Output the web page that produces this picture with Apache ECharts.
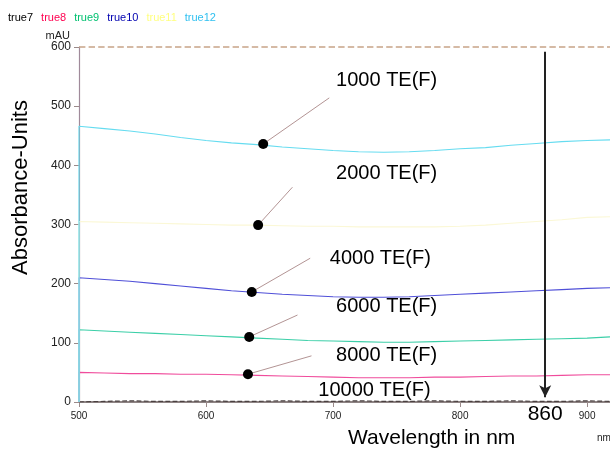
<!DOCTYPE html>
<html><head><meta charset="utf-8">
<script src="https://cdn.jsdelivr.net/npm/echarts@6/dist/echarts.min.js"></script>
<style>html,body{margin:0;padding:0;background:#fff}#c{width:610px;height:455px}</style>
</head><body><div id="c"></div>
<script>
// ---- data ----
const wavelengths = [500,520,540,560,580,600,620,640,660,680,700,720,740,760,780,800,820,840,860,880,900,918];
const seriesNames = ['true7','true8','true9','true10','true11','true12'];
const true7  = [2,1,2,1,1,2,1,1,2,1,1,2,1,1,2,1,1,2,1,1,2,1];
const true8  = [50,49,48,48,47,47,46,45,44,43,42,41,41,41,42,42,43,44,44,45,46,46];
const true9  = [122,120,118,116,114,112,110,108,106,104,103,102,101,101,102,103,104,105,106,107,108,110];
const true10 = [210,207,204,200,196,192,188,185,182,180,178,177,177,178,180,182,184,186,188,190,192,193];
const true11 = [305,304,303,302,301,300,299,299,298,297,297,296,296,296,296,297,299,302,305,308,312,313];
const true12 = [466,462,458,453,447,442,438,435,431,428,425,423,422,423,425,428,430,434,437,440,442,443];
const yTicks = [0,100,200,300,400,500,600];
const xTicks = [500,600,700,800,900];
const annotLabels = ['1000 TE(F)','2000 TE(F)','4000 TE(F)','6000 TE(F)','8000 TE(F)','10000 TE(F)'];
const dotX = [645,641,636,634,633];
const dotY = [436,299,186,110,47];
const leaderEndX = [697,668,682,672,683];
const leaderEndY = [514,363,243,147,78];
const labelX = [702,702,697,702,702,688];
const labelY = [544,387,243,161,79,20];
const arrowX = 867;
const arrowLabel = '860';
const saturationLevel = 600;

// ---- styles ----
const lineColors = ['#4a4040','#f04c9c','#3ccfa8','#5050d8','#fbf8d6','#66dcf0'];
const legendColors = ['#000000','#ff0050','#00c070','#0000b0','#ffff80','#30c0f0'];
const FONT = 'Liberation Sans, Arial, sans-serif';
const allVals = [true7,true8,true9,true10,true11,true12];

const chart = echarts.init(document.getElementById('c'));
const lineSeries = seriesNames.map((n, si) => ({
  name: n, type: 'line', symbol: 'none', silent: true,
  lineStyle: {color: lineColors[si], width: si === 0 ? 1.2 : 1.1, type: si === 0 ? 'dashed' : 'solid'},
  itemStyle: {color: lineColors[si]},
  data: [[wavelengths[0], 0]].concat(wavelengths.map((w, i) => [w, allVals[si][i]])),
  z: 3
}));
lineSeries[0].markLine = {
  silent: true, symbol: ['none', 'arrow'], symbolSize: [9, 12],
  lineStyle: {color: '#222', width: 2, type: 'solid'},
  label: {show: true, position: 'end', formatter: arrowLabel, fontSize: 21, color: '#000', fontFamily: FONT, distance: 6},
  data: [[{coord: [arrowX, 592]}, {coord: [arrowX, 8]}]]
};
lineSeries[1].markLine = {
  silent: true, symbol: ['none', 'none'],
  lineStyle: {color: '#c8a488', width: 1.6, type: 'dashed'},
  label: {show: false},
  data: [{yAxis: saturationLevel}]
};

const option = {
  animation: false,
  backgroundColor: '#fff',
  textStyle: {fontFamily: FONT},
  legend: {
    left: -2, top: 7, itemWidth: 0, itemHeight: 0, itemGap: 3, selectedMode: false,
    textStyle: {fontSize: 11, fontFamily: FONT},
    data: seriesNames.map((n, i) => ({name: n, icon: 'rect', textStyle: {color: legendColors[i]}}))
  },
  grid: {left: 79, right: 0, top: 47, bottom: 53, outerBoundsMode: 'none', containLabel: false},
  xAxis: {
    type: 'value', min: 500, max: 918, interval: 100,
    axisLine: {show: true, lineStyle: {color: '#6a5c5c', width: 1.5}},
    axisTick: {show: true, length: 5, lineStyle: {color: '#9a8a8a'}},
    axisLabel: {fontSize: 10, color: '#222', margin: 9, fontFamily: FONT, showMaxLabel: false},
    splitLine: {show: false}
  },
  yAxis: [{
    type: 'value', min: 0, max: 600, interval: 100,
    name: 'mAU', nameLocation: 'end', nameGap: 6,
    nameTextStyle: {fontSize: 11, color: '#222', align: 'right', padding: [0, 9, 0, 0], fontFamily: FONT},
    axisLine: {show: true, lineStyle: {color: '#a08a9a', width: 1.2}},
    axisTick: {show: true, length: 5, lineStyle: {color: '#9a8a8a'}},
    axisLabel: {fontSize: 12, color: '#222', margin: 8, fontFamily: FONT},
    splitLine: {show: false}
  }, {
    type: 'value', min: 0, max: 600, position: 'left',
    name: 'Absorbance-Units', nameLocation: 'middle', nameGap: 47,
    nameTextStyle: {fontSize: 22, color: '#000', fontFamily: FONT, padding: [0, 0, 0, 74]},
    axisLine: {show: false}, axisTick: {show: false}, axisLabel: {show: false}, splitLine: {show: false}
  }],
  graphic: [
    {type: 'text', left: 348, top: 428, style: {text: 'Wavelength in nm', font: '21px ' + FONT, fill: '#000'}},
    {type: 'text', left: 597, top: 433, style: {text: 'nm', font: '10px ' + FONT, fill: '#222'}}
  ],
  series: lineSeries.concat([
    {
      name: 'leaders', type: 'lines', coordinateSystem: 'cartesian2d', silent: true,
      lineStyle: {color: '#b39494', width: 1, opacity: 1},
      data: dotX.map((x, i) => ({coords: [[x, dotY[i]], [leaderEndX[i], leaderEndY[i]]]})),
      z: 4
    },
    {
      name: 'dots', type: 'scatter', symbolSize: 10, silent: true,
      itemStyle: {color: '#000', opacity: 1},
      data: dotX.map((x, i) => [x, dotY[i]]), z: 5
    },
    {
      name: 'labels', type: 'scatter', symbolSize: 1, silent: true,
      itemStyle: {color: 'transparent', opacity: 1},
      label: {show: true, position: 'right', distance: 0, formatter: '{b}', fontSize: 20, color: '#000', fontFamily: FONT},
      data: labelX.map((x, i) => ({name: annotLabels[i], value: [x, labelY[i]]})), z: 6
    }
  ])
};
chart.setOption(option);
</script></body></html>
